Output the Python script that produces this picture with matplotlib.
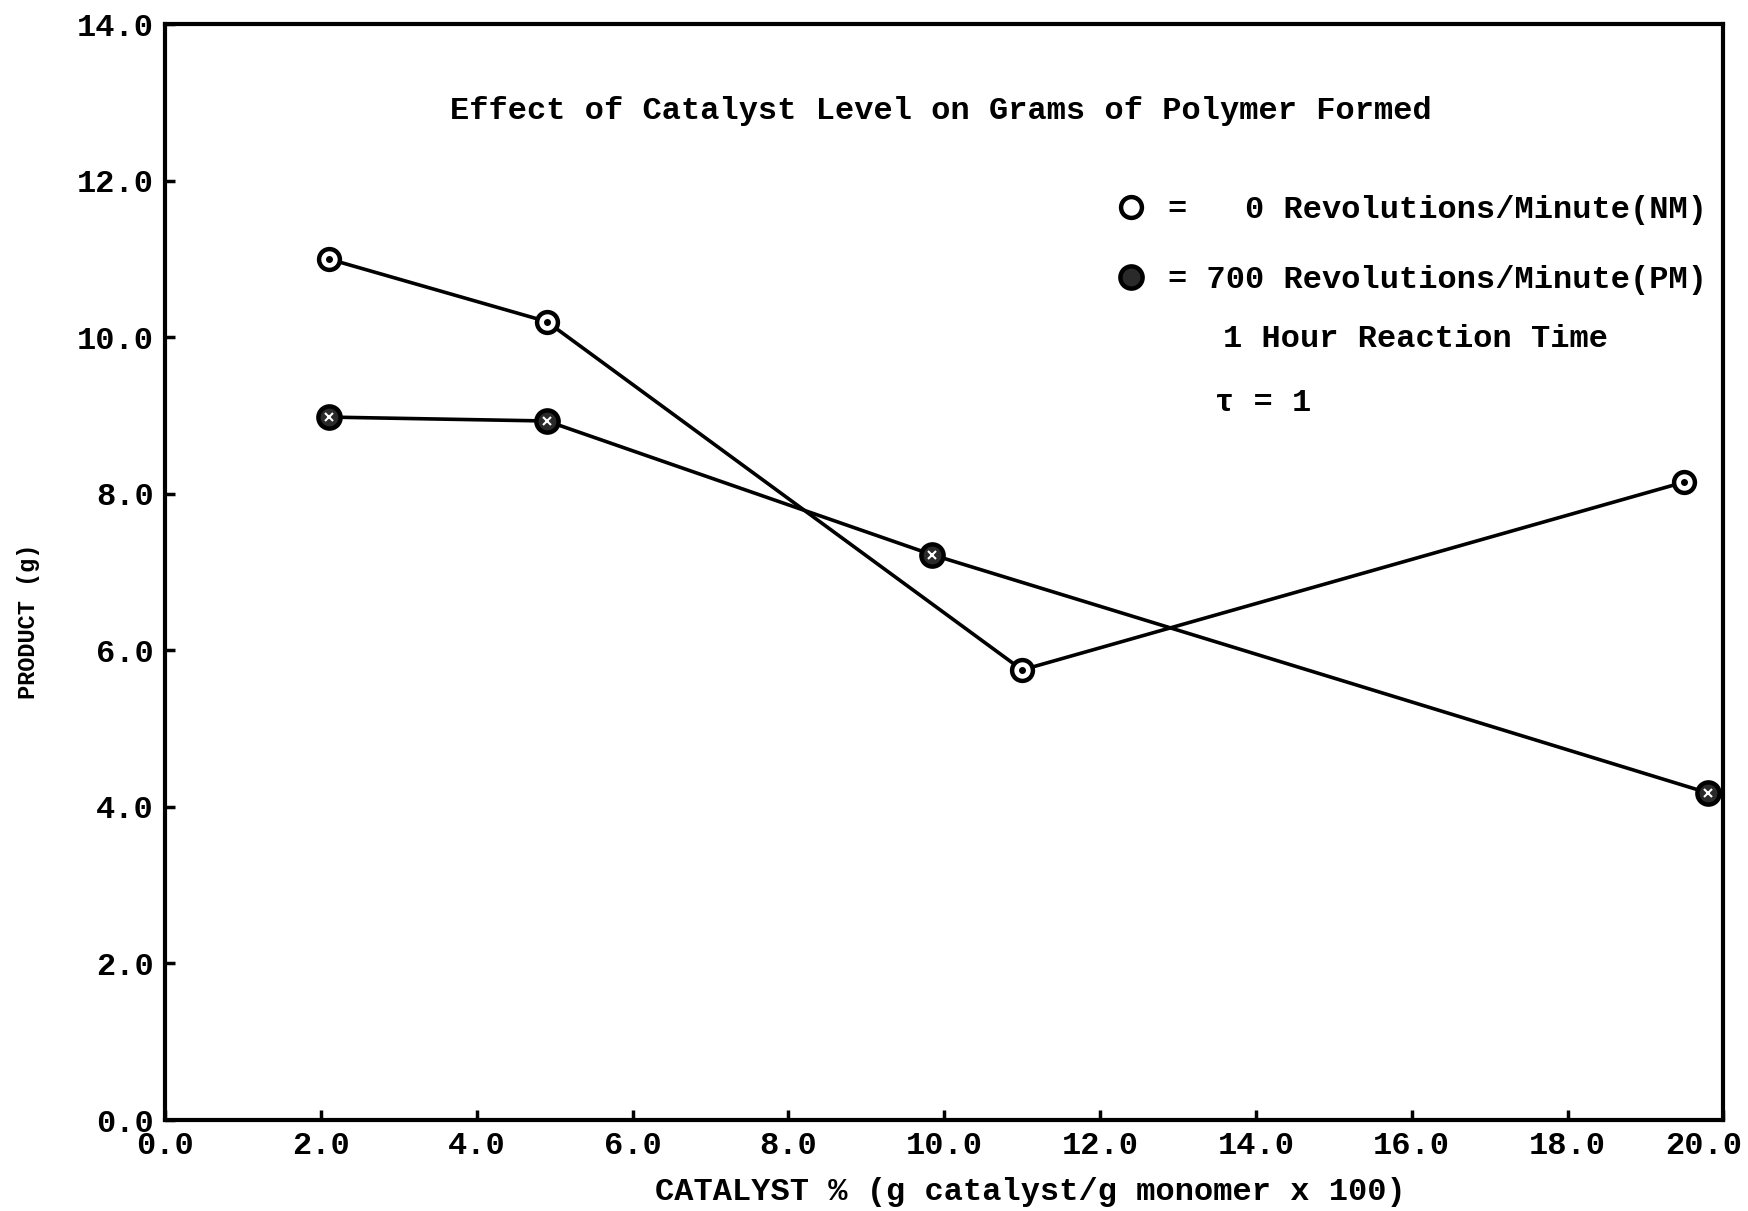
import matplotlib
matplotlib.use("Agg")
import matplotlib.pyplot as plt
from matplotlib.lines import Line2D
from matplotlib.transforms import ScaledTranslation

# values
x_nm = [2.1, 4.9, 11.0, 19.5]
y_nm = [11.0, 10.2, 5.75, 8.15]
x_pm = [2.1, 4.9, 9.85, 19.8]
y_pm = [8.98, 8.93, 7.22, 4.18]

ticks = [0, 2, 4, 6, 8, 10, 12, 14, 16, 18, 20]
yticks = [0, 2, 4, 6, 8, 10, 12, 14]

title = "Effect of Catalyst Level on Grams of Polymer Formed"
nm_label = "=   0 Revolutions/Minute(NM)"
pm_label = "= 700 Revolutions/Minute(PM)"
notes = ["1 Hour Reaction Time", "\u03c4 = 1"]

plt.rcParams['font.family'] = ['Liberation Mono', 'DejaVu Sans Mono']
plt.rcParams['font.weight'] = 'bold'
fs = 23

fig = plt.figure(figsize=(17.48, 12.11), dpi=100)
ax = fig.add_axes([0.0944, 0.0751, 0.8915, 0.905])

lw = 2.6
nm_style = dict(marker='o', markersize=15, markerfacecolor='white',
                markeredgecolor='black', markeredgewidth=3.2)
pm_style = dict(marker='o', markersize=16, markerfacecolor='#2a2a2a',
                markeredgecolor='black', markeredgewidth=3.2)

ax.plot(x_nm, y_nm, color='black', lw=lw, zorder=2, **nm_style)
ax.plot(x_nm, y_nm, ls='none', marker='o', markersize=4, color='black', zorder=3)
ax.plot(x_pm, y_pm, color='black', lw=lw, zorder=2, **pm_style)
ax.plot(x_pm, y_pm, ls='none', marker='x', markersize=6, markeredgewidth=1.5,
        color='white', zorder=3)

ax.set_xlim(0, 20)
ax.set_ylim(0, 14)
ax.set_xticks(ticks)
ax.set_xticklabels([f"{t:.1f}" for t in ticks])
ax.set_yticks(yticks)
ax.set_yticklabels([f"{t:.1f}" for t in yticks])
ax.tick_params(direction='in', length=7, width=2.5, labelsize=fs, pad=8)
for s in ax.spines.values():
    s.set_linewidth(3)

# last x label sits a bit left of its tick in the original
last = ax.get_xticklabels()[-1]
last.set_transform(last.get_transform() + ScaledTranslation(-0.2, 0, fig.dpi_scale_trans))

ax.set_xlabel("CATALYST % (g catalyst/g monomer x 100)", fontsize=fs, fontweight='bold')
ax.xaxis.set_label_coords(0.555, -0.052)
ax.set_ylabel("PRODUCT (g)", fontsize=17, fontweight='bold')
ax.yaxis.set_label_coords(-0.08, 0.455)

ax.text(0.498, 0.921, title, transform=ax.transAxes, ha='center', va='center', fontsize=fs)

h_nm = Line2D([], [], ls='none', **nm_style)
h_pm = Line2D([], [], ls='none', **pm_style)
leg = ax.legend([h_nm, h_pm], [nm_label, pm_label], loc='center left',
                bbox_to_anchor=(0.5915, 0.7985), frameon=False, fontsize=fs,
                handlelength=1.0, handletextpad=0.64, labelspacing=1.25)

ax.text(0.679, 0.7127, notes[0], transform=ax.transAxes, ha='left', va='center', fontsize=fs)
ax.text(0.674, 0.654, notes[1], transform=ax.transAxes, ha='left', va='center', fontsize=fs)

fig.savefig("out.png", dpi=100)
